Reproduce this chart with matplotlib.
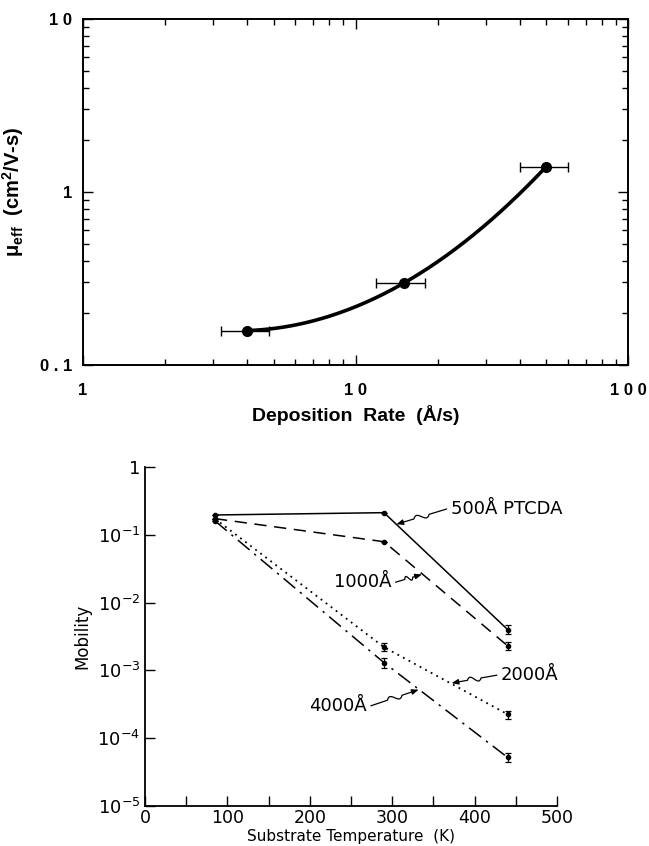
import matplotlib
matplotlib.use("Agg")
import matplotlib.pyplot as plt
import numpy as np
from matplotlib.path import Path
from matplotlib.patches import FancyArrowPatch
from matplotlib.ticker import LogLocator, NullFormatter

plt.rcParams["mathtext.fontset"] = "custom"
plt.rcParams["mathtext.rm"] = "DejaVu Sans"
plt.rcParams["mathtext.bf"] = "Liberation Sans:bold"

# ---- top panel: mobility vs deposition rate ----
rate = [4.0, 15.0, 50.0]
rate_lo = [3.2, 11.9, 40.0]
rate_hi = [4.8, 18.0, 60.0]
mu_eff = [0.158, 0.297, 1.40]

# ---- bottom panel: mobility vs substrate temperature ----
temp = [85, 290, 440]
mob_500 = [0.196, 0.212, 0.0040]
err_500 = [0.0, 0.0, 0.0006]
mob_1000 = [0.173, 0.079, 0.0023]
err_1000 = [0.0, 0.0, 0.0003]
mob_2000 = [0.172, 0.0022, 0.000225]
err_2000 = [0.0, 0.0003, 0.00003]
mob_4000 = [0.160, 0.0013, 0.000052]
err_4000 = [0.0, 0.0002, 0.000008]

labels = ["500Å PTCDA", "1000Å", "2000Å", "4000Å"]
# (text x, text y, tip x, tip y) in data coords
label_pos = [(371, 0.24, 305, 0.143),
             (299, 0.020, 336, 0.026),
             (432, 0.00085, 372, 0.00065),
             (269, 0.00030, 332, 0.00052)]
label_side = ["left", "right", "left", "right"]

fig = plt.figure(figsize=(6.49, 8.46), dpi=100)

# ------------------------------------------------------------------
ax = fig.add_axes([0.128, 0.5686, 0.840, 0.409])
bold = dict(family="Liberation Sans", fontweight="bold")

# smooth curve through the three points (quadratic in log-log)
lx, ly = np.log10(rate), np.log10(mu_eff)
coef = np.polyfit(lx, ly, 2)
xs = np.linspace(lx[0], lx[-1], 200)
ax.plot(10 ** xs, 10 ** np.polyval(coef, xs), color="black", lw=2.6,
        solid_capstyle="round")
xerr = [np.subtract(rate, rate_lo), np.subtract(rate_hi, rate)]
ax.errorbar(rate, mu_eff, xerr=xerr, fmt="o", color="black", ms=7,
            elinewidth=1.0, capsize=3.5, capthick=1.0)

ax.set_xscale("log")
ax.set_yscale("log")
ax.set_xlim(1, 100)
ax.set_ylim(0.1, 10)
ax.set_xticks([1, 10, 100], ["1", "1 0", "1 0 0"])
ax.set_yticks([0.1, 1, 10], ["0 . 1", "1", "1 0"])
for a in (ax.xaxis, ax.yaxis):
    a.set_minor_locator(LogLocator(base=10, subs=np.arange(2, 10)))
    a.set_minor_formatter(NullFormatter())
ax.tick_params(which="both", direction="in", top=True, right=True,
               width=1.0, labelsize=12)
ax.tick_params(which="major", length=7)
ax.tick_params(which="minor", length=4)
ax.tick_params(axis="x", pad=13)
ax.tick_params(axis="y", pad=8)
for t in ax.get_xticklabels() + ax.get_yticklabels():
    t.set_fontfamily("Liberation Sans")
    t.set_fontweight("bold")
for s in ax.spines.values():
    s.set_linewidth(1.4)
ax.set_xlabel("Deposition  Rate  (Å/s)", fontsize=14, labelpad=5, **bold)
ax.set_ylabel(r"μ$_{\mathbf{eff}}$  (cm$^{\mathbf{2}}$/V-s)", fontsize=14.5,
              labelpad=10, **bold)

# ------------------------------------------------------------------
bx = fig.add_axes([0.2234, 0.0473, 0.635, 0.4007])
thin = dict(family="DejaVu Sans", fontweight="normal")

series = [(mob_500, err_500, "-", 1.1),
          (mob_1000, err_1000, (0, (8, 5)), 1.1),
          (mob_2000, err_2000, (0, (1, 2.5)), 1.3),
          (mob_4000, err_4000, (0, (10, 4, 1.5, 4)), 1.1)]
for vals, errs, ls, lw in series:
    bx.plot(temp, vals, color="black", ls=ls, lw=lw)
    bx.errorbar(temp, vals, yerr=errs, fmt="o", color="black", ms=3,
                elinewidth=0.9, capsize=2.5, capthick=0.9)

bx.set_yscale("log")
bx.set_xlim(0, 500)
bx.set_ylim(1e-5, 1)
bx.set_xticks([0, 100, 200, 300, 400, 500])
bx.set_xticks([50, 150, 250, 350, 450], minor=True)
bx.set_yticks([1e-5, 1e-4, 1e-3, 1e-2, 1e-1, 1],
              ["$10^{-5}$", "$10^{-4}$", "$10^{-3}$", "$10^{-2}$",
               "$10^{-1}$", "1"])
bx.yaxis.set_minor_locator(plt.NullLocator())
bx.spines["top"].set_visible(False)
bx.spines["right"].set_visible(False)
for s in ("left", "bottom"):
    bx.spines[s].set_linewidth(1.3)
bx.tick_params(which="both", direction="in", width=1.0, labelsize=13)
bx.tick_params(which="major", length=7)
bx.tick_params(which="minor", length=7)
bx.tick_params(axis="x", labelsize=12.5, pad=2)
bx.set_xlabel("Substrate Temperature  (K)", fontsize=11, va="center",
              **thin)
bx.xaxis.set_label_coords(0.5, -0.09)
bx.set_ylabel("Mobility", fontsize=12, labelpad=4, **thin)

inv = fig.dpi_scale_trans.inverted()


def squiggle(axis, start, tip):
    # wavy leader line from a label to its curve
    p0 = inv.transform(axis.transData.transform(start))
    p1 = inv.transform(axis.transData.transform(tip))
    d = p1 - p0
    n = np.array([-d[1], d[0]]) / np.hypot(*d) * 0.09
    verts = [p0, p0 + 0.35 * d,
             p0 + 0.45 * d + n, p0 + 0.55 * d - n, p0 + 0.65 * d,
             p1]
    codes = [Path.MOVETO, Path.LINETO,
             Path.CURVE4, Path.CURVE4, Path.CURVE4,
             Path.LINETO]
    fig.add_artist(FancyArrowPatch(path=Path(verts, codes),
                                   arrowstyle="-|>,head_length=4,head_width=1.6",
                                   color="black", lw=0.9,
                                   transform=fig.dpi_scale_trans))


for text, (tx, ty, px, py), side in zip(labels, label_pos, label_side):
    bx.text(tx, ty, text, ha=side, va="center", fontsize=13, **thin)
    off = -5 if side == "left" else 5
    sx = tx + off
    squiggle(bx, (sx, ty), (px, py))

fig.savefig("out.png", dpi=100)
